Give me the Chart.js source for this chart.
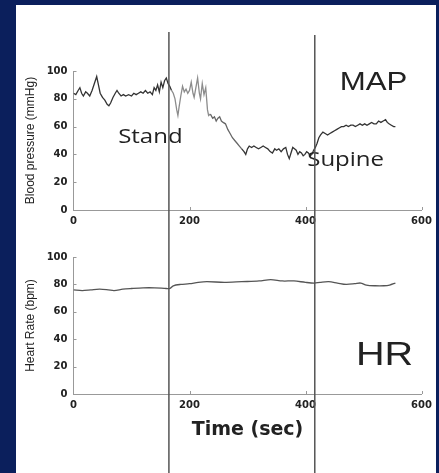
<!DOCTYPE html>
<html>
<head>
<meta charset="utf-8">
<script src="https://cdn.jsdelivr.net/npm/chart.js@4"></script>
<style>
  body { margin: 0; background: #0b1f5c; width: 439px; height: 473px; overflow: hidden; position: relative; }
  #panel { position: absolute; left: 16px; top: 5px; width: 420px; height: 468px; background: #fff; }
  canvas { position: absolute; left: 0; }
  #mapChart { top: 0; }
  #hrChart { top: 240px; }
</style>
</head>
<body>
<div id="panel"></div>
<canvas id="mapChart" width="439" height="240"></canvas>
<canvas id="hrChart" width="439" height="233"></canvas>
<script>
// MAP - presion arterial media (mmHg) vs tiempo (s)
const mapTime = [0,4,8,11,14,17,21,24,28,32,36,40,43,46,50,54,58,61,64,68,72,75,78,82,86,90,95,100,104,108,112,116,120,124,128,132,136,139,142,145,148,151,154,157,160,163,166,169,172,175,178,180,182,185,188,191,194,197,200,203,206,208,211,214,217,219,222,225,228,231,233,236,240,243,246,249,252,255,258,262,266,270,274,278,282,286,290,294,297,300,303,307,311,315,319,323,327,331,335,339,343,347,350,354,358,362,366,369,372,375,378,381,384,387,390,393,396,399,402,405,408,411,414,417,420,423,426,430,434,438,442,446,450,454,458,462,466,470,474,478,482,486,490,494,498,502,506,510,514,518,522,526,530,534,538,541,544,548,552,555];
const mapValue = [84,83,86,88,84,82,85,84,82,86,91,96,90,84,81,79,76,75,77,81,84,86,84,82,83,82,83,82,84,83,84,85,84,86,84,85,83,88,86,90,85,92,88,93,95,91,89,86,84,80,72,68,74,82,89,85,87,84,86,92,84,81,88,95,84,80,91,83,88,72,68,69,66,67,64,66,67,64,63,62,58,55,52,50,48,46,44,42,40,44,46,45,46,45,44,45,46,45,44,42,41,44,43,44,42,44,45,40,37,41,45,44,43,40,42,41,39,40,42,41,39,40,43,45,48,52,54,56,55,54,55,56,57,58,59,60,60,61,60,61,61,60,61,62,61,62,61,62,63,62,62,64,63,64,65,63,62,61,60,60];

// HR - frecuencia cardiaca (bpm)
const hrTime = [0,15,30,45,60,70,85,100,120,140,160,166,172,185,200,215,230,260,290,320,340,360,380,400,415,425,440,455,470,485,495,505,520,535,545,555];
const hrValue = [76,75.5,76,76.5,76,75.5,76.5,77,77.5,77.5,77,77,79,80,80.5,81.5,82,81.5,82,82.5,83.5,82.5,82.5,81.5,81,81.5,82,81,80,80.5,81,79.5,79,79,79.5,81];

// eventos: ponerse de pie / volver a supino
const eventTimes = [164.5, 416];

const xTicks = [0, 200, 400, 600];
const yTicks = [0, 20, 40, 60, 80, 100];

function toPoints(xs, ys) {
  return xs.map((t, i) => ({ x: t, y: ys[i] }));
}

// marcas internas, lineas verticales y etiquetas
const markers = {
  id: 'markers',
  afterDraw(chart, args, opts) {
    const ctx = chart.ctx;
    const x = chart.scales.x;
    const y = chart.scales.y;
    ctx.save();

    ctx.strokeStyle = '#999';
    ctx.lineWidth = 1;
    x.ticks.forEach(t => {
      if (t.value === 0) return;
      const px = Math.round(x.getPixelForValue(t.value)) + 0.5;
      ctx.beginPath(); ctx.moveTo(px, y.bottom); ctx.lineTo(px, y.bottom - 3); ctx.stroke();
    });
    y.ticks.forEach(t => {
      if (t.value === 0) return;
      const py = Math.round(y.getPixelForValue(t.value)) + 0.5;
      ctx.beginPath(); ctx.moveTo(x.left, py); ctx.lineTo(x.left + 3, py); ctx.stroke();
    });

    ctx.fillStyle = '#222';
    ctx.textBaseline = 'alphabetic';
    ctx.textAlign = 'left';
    opts.labels.forEach(l => {
      ctx.save();
      ctx.font = l.font;
      ctx.translate(x.getPixelForValue(l.x), y.getPixelForValue(l.y));
      ctx.scale(1.2, 1);
      ctx.fillText(l.text, 0, 0);
      ctx.restore();
    });

    ctx.strokeStyle = '#555';
    ctx.lineWidth = 1.5;
    eventTimes.forEach((t, i) => {
      const px = x.getPixelForValue(t);
      ctx.beginPath(); ctx.moveTo(px, opts.lineTop[i]); ctx.lineTo(px, chart.height); ctx.stroke();
    });
    ctx.restore();
  }
};

function buildChart(el, cfg) {
  return new Chart(el, {
    type: 'line',
    data: { datasets: [cfg.dataset] },
    options: {
      responsive: false,
      animation: false,
      devicePixelRatio: 1,
      layout: { padding: { left: 0, right: 17.5, top: cfg.top, bottom: 0 } },
      plugins: { legend: { display: false }, tooltip: { enabled: false }, markers: cfg.markers },
      scales: {
        x: {
          type: 'linear', min: 0, max: 600,
          afterBuildTicks: s => { s.ticks = xTicks.map(v => ({ value: v })); },
          afterFit: s => { s.height = cfg.xHeight; },
          grid: { display: false, drawTicks: false },
          border: { display: true, color: '#999', width: 1 },
          ticks: { padding: 5, maxRotation: 0, color: '#222', font: { family: 'DejaVu Sans', weight: 'bold', size: 10 } },
          title: cfg.xTitle
        },
        y: {
          min: 0, max: 100,
          afterBuildTicks: s => { s.ticks = yTicks.map(v => ({ value: v })); },
          afterFit: s => { s.width = 73.5; },
          grid: { display: false, drawTicks: false },
          border: { display: true, color: '#999', width: 1 },
          ticks: { padding: 6, color: '#222', font: { family: 'DejaVu Sans', weight: 'bold', size: 10 } },
          title: {
            display: true, text: cfg.yTitle, color: '#222',
            padding: { top: 23, bottom: 0 },
            font: { family: 'Liberation Sans', size: 12 }
          }
        }
      }
    },
    plugins: [markers]
  });
}

buildChart(document.getElementById('mapChart'), {
  top: 71,
  xHeight: 30,
  yTitle: 'Blood pressure (mmHg)',
  xTitle: { display: false },
  dataset: {
    data: toPoints(mapTime, mapValue),
    borderWidth: 1.3,
    pointRadius: 0,
    tension: 0,
    borderColor: '#333',
    segment: {
      borderColor: c => {
        const t = c.p0.parsed.x;
        if (t >= 168 && t < 236) return '#8c8c8c';
        if (t >= 236 && t < 290) return '#666';
        return '#333';
      }
    }
  },
  markers: {
    lineTop: [32, 35],
    labels: [
      { text: 'MAP', x: 459, y: 86.3, font: '26px "Liberation Sans"' },
      { text: 'Stand', x: 77, y: 48, font: '20px "Open Sans"' },
      { text: 'Supine', x: 403, y: 32, font: '20px "Open Sans"' }
    ]
  }
});

buildChart(document.getElementById('hrChart'), {
  top: 17,
  xHeight: 79,
  yTitle: 'Heart Rate (bpm)',
  xTitle: {
    display: true, text: 'Time (sec)', color: '#222',
    padding: { top: 0, bottom: 31.5 },
    font: { family: 'DejaVu Sans', weight: 'bold', size: 19 }
  },
  dataset: {
    data: toPoints(hrTime, hrValue),
    borderWidth: 1.3,
    pointRadius: 0,
    tension: 0.3,
    borderColor: '#555'
  },
  markers: {
    lineTop: [0, 0],
    labels: [
      { text: 'HR', x: 487, y: 21.4, font: '33px "Liberation Sans"' }
    ]
  }
});
</script>
</body>
</html>
